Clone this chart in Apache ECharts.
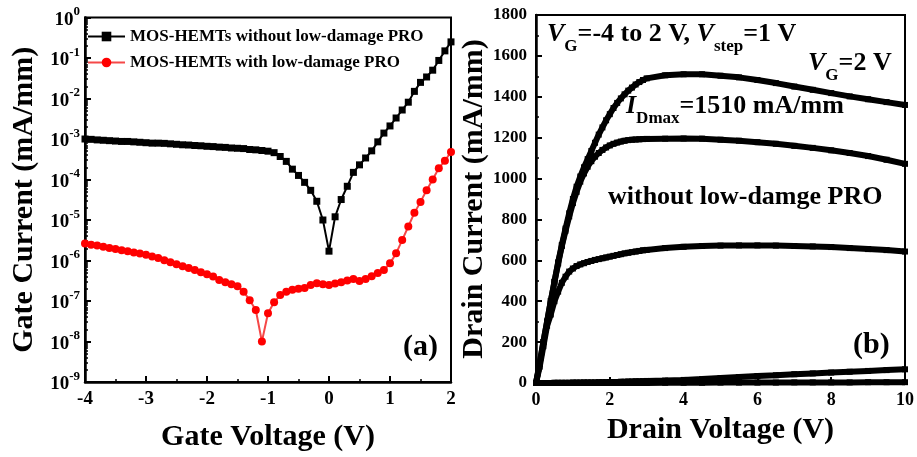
<!DOCTYPE html>
<html><head><meta charset="utf-8">
<script src="https://cdn.jsdelivr.net/npm/echarts@6/dist/echarts.min.js"></script>
<style>html,body{margin:0;padding:0;background:#fff}#c{width:917px;height:457px}</style>
</head><body><div id="c"></div>
<script>
// ---- Panel (a): gate leakage ----
const gateVoltage = [-4.0,-3.9,-3.8,-3.7,-3.6,-3.5,-3.4,-3.3,-3.2,-3.1,
  -3.0,-2.9,-2.8,-2.7,-2.6,-2.5,-2.4,-2.3,-2.2,-2.1,
  -2.0,-1.9,-1.8,-1.7,-1.6,-1.5,-1.4,-1.3,-1.2,-1.1,
  -1.0,-0.9,-0.8,-0.7,-0.6,-0.5,-0.4,-0.3,-0.2,-0.1,
  0.0,
  0.1,0.2,0.3,0.4,0.5,0.6,0.7,0.8,0.9,1.0,
  1.1,1.2,1.3,1.4,1.5,1.6,1.7,1.8,1.9,2.0];
const gateCurrentWithout = [1.0e-3,9.8e-4,9.5e-4,9.3e-4,9.1e-4,8.9e-4,8.7e-4,8.7e-4,8.5e-4,8.3e-4,
  8.1e-4,7.9e-4,7.9e-4,7.8e-4,7.6e-4,7.4e-4,7.2e-4,7.1e-4,6.9e-4,6.8e-4,
  6.6e-4,6.5e-4,6.3e-4,6.2e-4,6.0e-4,5.9e-4,5.8e-4,5.5e-4,5.4e-4,5.2e-4,
  5.0e-4,4.6e-4,3.7e-4,2.8e-4,1.8e-4,1.26e-4,8.5e-5,5.4e-5,2.9e-5,1.0e-5,
  1.7e-6,
  1.2e-5,3.2e-5,6.8e-5,1.5e-4,2.3e-4,3.4e-4,5.1e-4,8.5e-4,1.4e-3,2.1e-3,
  3.3e-3,5.2e-3,8.1e-3,1.5e-2,2.5e-2,3.4e-2,5.0e-2,8.7e-2,1.5e-1,2.5e-1];
const gateCurrentWith = [2.63e-6,2.45e-6,2.34e-6,2.19e-6,2.04e-6,1.91e-6,1.78e-6,1.70e-6,1.58e-6,1.48e-6,
  1.38e-6,1.26e-6,1.15e-6,1.02e-6,9.1e-7,8.1e-7,7.2e-7,6.5e-7,5.8e-7,5.1e-7,
  4.6e-7,4.0e-7,3.3e-7,2.9e-7,2.6e-7,2.3e-7,1.7e-7,1.05e-7,6.0e-8,1.0e-8,
  5.0e-8,9.3e-8,1.4e-7,1.7e-7,1.9e-7,2.0e-7,2.1e-7,2.5e-7,2.75e-7,2.6e-7,
  2.5e-7,
  2.7e-7,2.9e-7,3.2e-7,3.5e-7,3.1e-7,3.5e-7,4.1e-7,4.9e-7,5.8e-7,8.5e-7,
  1.5e-6,3.2e-6,6.9e-6,1.5e-5,2.8e-5,5.4e-5,1.0e-4,1.9e-4,2.9e-4,4.8e-4];
const seriesNamesA = ['MOS-HEMTs without low-damage PRO', 'MOS-HEMTs with low-damage PRO'];

// ---- Panel (b): output characteristics ----
const drainVoltage = [0,0.1,0.2,0.3,0.4,0.5,0.6,0.7,0.8,0.9,
  1.0,1.1,1.2,1.3,1.4,1.5,1.6,1.7,1.8,1.9,
  2.0,2.1,2.2,2.3,2.4,2.5,2.6,2.7,2.8,2.9,
  3.0,3.5,4.0,4.5,5.0,5.5,6.0,6.5,7.0,7.5,8.0,8.5,9.0,9.5,10.0];
const drainVG2 = [0,95,200,300,400,495,590,675,755,830,
  900,960,1010,1055,1095,1135,1175,1215,1250,1285,
  1315,1345,1370,1392,1412,1430,1445,1460,1472,1482,
  1490,1505,1510,1510,1503,1495,1482,1467,1450,1434,1418,1402,1388,1374,1360];
const drainVG1 = [0,95,200,300,400,495,585,670,745,815,
  880,935,985,1025,1058,1085,1107,1125,1140,1152,
  1162,1170,1176,1181,1185,1188,1190,1191,1192,1193,
  1194,1195,1196,1195,1190,1185,1178,1170,1160,1150,1138,1125,1110,1092,1072];
const drainVG0 = [0,80,180,280,335,400,447,490,520,545,
  560,572,580,586,592,597,602,606,610,614,
  618,622,626,630,634,637,640,643,646,649,
  651,660,666,670,672,673,673,672,670,668,665,660,655,650,643];
const drainVGm1 = [0,0,0,0,0,1,1,1,1,1,
  2,2,2,3,3,3,3,4,4,4,
  5,5,5,6,6,7,7,8,8,9,
  10,12,15,19,24,29,34,38,43,47,51,55,59,63,67];
const drainVGoff = [0,0,0,0,0,0,0,0,0,0,
  0,0,0,0,0,0,0,0,0,0,
  0,0,0,0,0,0,0,0,0,0,
  0,1,1,1,2,2,2,2,3,3,3,3,4,4,4];
const drainNames = ['VG=2 V','VG=1 V','VG=0 V','VG=-1 V','VG=-4~-2 V'];

// minor log tick positions (2..9 x 10^e)
const minorLogTicks = [];
for (let e = -9; e < 0; e++) for (let m = 2; m <= 9; m++) minorLogTicks.push(m * Math.pow(10, e));

const FF = '"Liberation Serif","Times New Roman",serif';
const chart = echarts.init(document.getElementById('c'), null, {renderer: 'canvas'});

function baseAxis(extra) {
  return Object.assign({
    axisLine: {show: true, onZero: false, lineStyle: {color: '#000', width: 2.5}},
    axisTick: {show: true, inside: true, length: 6, lineStyle: {color: '#000', width: 2}},
    splitLine: {show: false},
    axisLabel: {color: '#000', fontFamily: FF, fontWeight: 'bold', fontSize: 19},
    nameLocation: 'middle',
    nameTextStyle: {color: '#000', fontFamily: FF, fontWeight: 'bold', fontSize: 30}
  }, extra);
}

const pairs = (xs, ys) => xs.map((x, i) => [x, ys[i]]);

const drainSeries = [drainVG2, drainVG1, drainVG0, drainVGm1, drainVGoff].map((arr, k) => ({
  name: drainNames[k], type: 'line', xAxisIndex: 1, yAxisIndex: 1,
  data: pairs(drainVoltage, arr),
  symbol: 'rect', symbolSize: 6,
  itemStyle: {color: '#000'},
  lineStyle: {color: '#000', width: 6},
  clip: true
}));

const richAnno = {
  i: {fontFamily: FF, fontStyle: 'italic', fontWeight: 'bold', fontSize: 26, fill: '#000', verticalAlign: 'top'},
  n: {fontFamily: FF, fontWeight: 'bold', fontSize: 26, fill: '#000', verticalAlign: 'top'},
  sub: {fontFamily: FF, fontWeight: 'bold', fontSize: 17, fill: '#000', verticalAlign: 'bottom'}
};

const option = {
  animation: false,
  backgroundColor: '#fff',
  grid: [
    {left: 85, top: 17.5, width: 366, height: 365.5, show: true, borderColor: '#000', borderWidth: 2, backgroundColor: 'transparent'},
    {left: 536, top: 15, width: 370, height: 368, show: true, borderColor: '#000', borderWidth: 2, backgroundColor: 'transparent'}
  ],
  legend: {
    data: seriesNamesA,
    orient: 'vertical', left: 87, top: 28, padding: 0,
    itemWidth: 37, itemHeight: 12, itemGap: 9,
    textStyle: {color: '#000', fontFamily: FF, fontWeight: 'bold', fontSize: 17}
  },
  xAxis: [
    baseAxis({gridIndex: 0, type: 'value', min: -4, max: 2, interval: 1,
      minorTick: {show: true, splitNumber: 2, length: 3, lineStyle: {color: '#000', width: 1.5}},
      minorSplitLine: {show: false},
      axisLabel: {color: '#000', fontFamily: FF, fontWeight: 'bold', fontSize: 19, margin: 8},
      name: 'Gate Voltage (V)', nameGap: 40}),
    baseAxis({gridIndex: 1, type: 'value', min: 0, max: 10, interval: 2,
      minorTick: {show: true, splitNumber: 2, length: 3, lineStyle: {color: '#000', width: 1.5}},
      minorSplitLine: {show: false},
      axisLabel: {color: '#000', fontFamily: FF, fontWeight: 'bold', fontSize: 18, margin: 8},
      name: 'Drain Voltage (V)', nameGap: 32})
  ],
  yAxis: [
    baseAxis({gridIndex: 0, type: 'log', logBase: 10, min: 1e-9, max: 1, splitNumber: 9,
      axisLabel: {
        margin: 5, color: '#000',
        formatter: v => '{b|10}{s|' + Math.round(Math.log10(v)) + '}',
        rich: {
          b: {fontFamily: FF, fontWeight: 'bold', fontSize: 19, color: '#000', lineHeight: 24, verticalAlign: 'bottom'},
          s: {fontFamily: FF, fontWeight: 'bold', fontSize: 13, color: '#000', verticalAlign: 'top'}
        }
      },
      name: 'Gate Current (mA/mm)', nameGap: 46}),
    baseAxis({gridIndex: 1, type: 'value', min: 0, max: 1800, interval: 200,
      minorTick: {show: true, splitNumber: 2, length: 3, lineStyle: {color: '#000', width: 1.5}},
      minorSplitLine: {show: false},
      axisLabel: {color: '#000', fontFamily: FF, fontWeight: 'bold', fontSize: 17, margin: 9,
        formatter: v => String(v)},
      name: 'Drain Current (mA/mm)', nameGap: 45}),
    {gridIndex: 0, type: 'log', logBase: 10, min: 1e-9, max: 1, position: 'left',
      axisLine: {show: false, onZero: false}, axisLabel: {show: false}, splitLine: {show: false},
      axisTick: {show: true, inside: true, length: 3, customValues: minorLogTicks, lineStyle: {color: '#000', width: 1.5}}}
  ],
  series: [
    {name: seriesNamesA[0], type: 'line', xAxisIndex: 0, yAxisIndex: 0,
      data: pairs(gateVoltage, gateCurrentWithout),
      symbol: 'rect', symbolSize: 7,
      itemStyle: {color: '#000'}, lineStyle: {color: '#000', width: 2}},
    {name: seriesNamesA[1], type: 'line', xAxisIndex: 0, yAxisIndex: 0,
      data: pairs(gateVoltage, gateCurrentWith),
      symbol: 'circle', symbolSize: 8,
      itemStyle: {color: '#ff0000'}, lineStyle: {color: '#f54848', width: 2}}
  ].concat(drainSeries),
  graphic: [
    {type: 'text', left: 547, top: 21, style: {
      text: '{i|V}{sub|G}{n|=-4 to 2 V, }{i|V}{sub|step}{n|=1 V}', lineHeight: 34, rich: richAnno}},
    {type: 'text', left: 808, top: 50, style: {
      text: '{i|V}{sub|G}{n|=2 V}', lineHeight: 34, rich: richAnno}},
    {type: 'text', left: 626, top: 93, style: {
      text: '{i|I}{sub|Dmax}{n|=1510 mA/mm}', lineHeight: 34, rich: richAnno}},
    {type: 'text', left: 608, top: 184, style: {
      text: 'without low-damge PRO', font: 'bold 26px ' + FF, fill: '#000'}},
    {type: 'text', left: 403, top: 332, style: {
      text: '(a)', font: 'bold 30px ' + FF, fill: '#000'}},
    {type: 'text', left: 853, top: 330, style: {
      text: '(b)', font: 'bold 30px ' + FF, fill: '#000'}}
  ]
};
chart.setOption(option);
</script>
</body></html>
